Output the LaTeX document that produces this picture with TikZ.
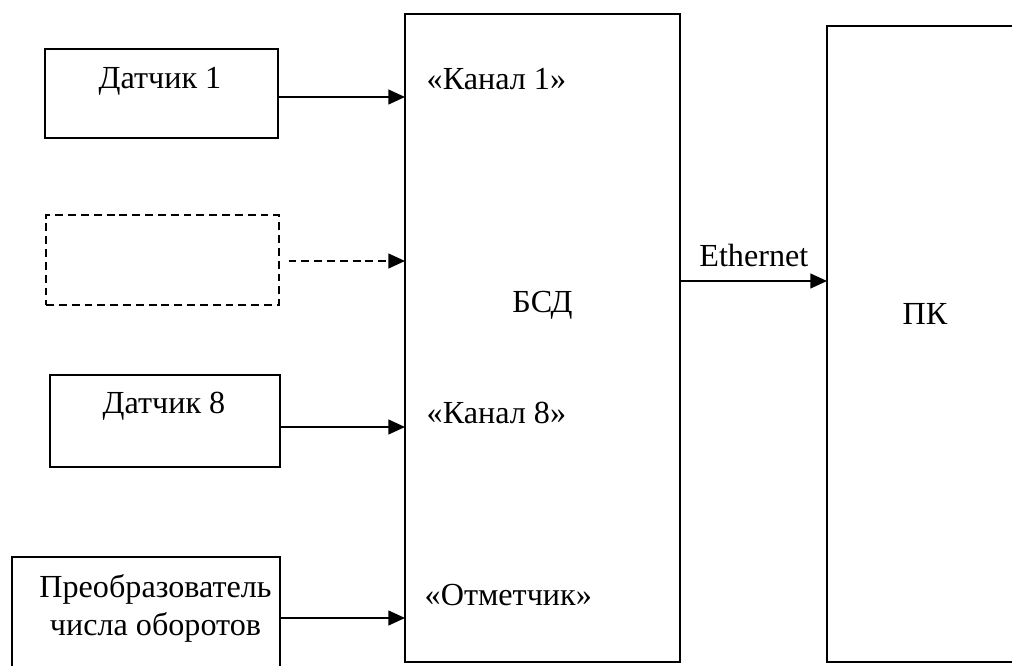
\documentclass[tikz,border=0pt]{standalone}
\usepackage{fontspec}
\setmainfont{Liberation Serif}
\usetikzlibrary{arrows.meta}

\begin{document}
\begin{tikzpicture}[x=0.02cm,y=-0.02cm,line width=0.85pt,
    box/.style={draw,inner sep=0pt},
    txt/.style={inner sep=0pt,font=\fontsize{18.3}{22}\selectfont},
    arr/.style={-{Triangle[length=9.5pt,width=8.5pt]}}]
      \clip (0,0) rectangle (1012,666);
      % blocks
      \node[box,minimum width=4.66cm,minimum height=1.78cm] (d1) at (161.5,93.5) {};
      \node[box,dash pattern=on 4.5pt off 2.8pt,minimum width=4.66cm,minimum height=1.8cm] (dx) at (162.5,260) {};
      \node[box,minimum width=4.6cm,minimum height=1.84cm] (d8) at (165,421) {};
      \node[box,minimum width=5.36cm,minimum height=2.86cm] (conv) at (146,628.5) {};
      \node[box,minimum width=5.5cm,minimum height=12.96cm] (bsd) at (542.5,338) {};
      \node[box,minimum width=3.96cm,minimum height=12.72cm] (pc) at (926,344) {};
      % texts
      \node[txt,anchor=base] (t1) at (160,89) {Датчик 1};
      \node[txt,anchor=base] (t8) at (164,413) {Датчик 8};
      \node[txt,anchor=base] (tc1) at (155.5,597) {Преобразователь};
      \node[txt,anchor=base] (tc2) at (155.5,635) {числа оборотов};
      \node[txt,anchor=base] (tb) at (542.5,312) {БСД};
      \node[txt,anchor=base] (tp) at (925,324) {ПК};
      \node[txt,anchor=base west] (k1) at (426,90) {«Канал 1»};
      \node[txt,anchor=base west] (k8) at (426,423) {«Канал 8»};
      \node[txt,anchor=base west] (km) at (424,605) {«Отметчик»};
      % inputs
      \coordinate (in1) at (405,97);
      \coordinate (inx) at (405,261);
      \coordinate (in8) at (405,427);
      \coordinate (inm) at (405,618);
      \coordinate (eth) at (827,281);
      \draw[arr] (d1.east |- in1) -- (in1);
      \draw[arr,dash pattern=on 4.5pt off 2.8pt] ([xshift=5pt]dx.east |- inx) -- (inx);
      \draw[arr] (d8.east |- in8) -- (in8);
      \draw[arr] (conv.east |- inm) -- (inm);
      \draw[arr] (bsd.east |- eth) -- (eth) node[txt,midway,above=8pt,anchor=base] {Ethernet};
\end{tikzpicture}
\end{document}
